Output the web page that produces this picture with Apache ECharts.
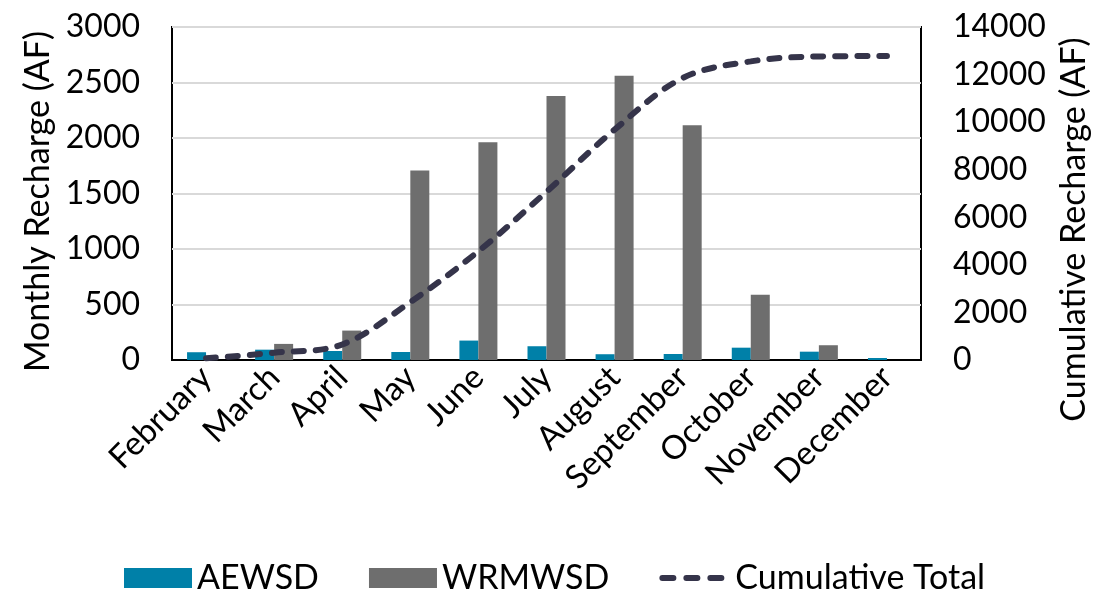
<!DOCTYPE html>
<html>
<head>
<meta charset="utf-8">
<script src="https://cdn.jsdelivr.net/npm/echarts@6/dist/echarts.min.js"></script>
<style>
html,body{margin:0;padding:0;background:#fff;}
#c{width:1102px;height:592px;}
</style>
</head>
<body>
<div id="c"></div>
<script>
const categories = ['February','March','April','May','June','July','August','September','October','November','December'];
const aewsd = [70, 93, 81, 72, 175, 124, 52, 54, 111, 75, 18];
const wrmwsd = [0, 145, 265, 1708, 1962, 2378, 2561, 2115, 588, 133, 0];
const cumulative = [70, 308, 654, 2434, 4571, 7073, 9686, 11855, 12554, 12762, 12780];
const leftTicks = [0, 3000, 500];
const rightTicks = [0, 14000, 2000];

const FONT = 'Lato';
const chart = echarts.init(document.getElementById('c'), null, {renderer:'canvas'});
chart.setOption({
  animation: false,
  textStyle: {fontFamily: FONT, color: '#000'},
  grid: {left: 172, right: 181, top: 27, bottom: 232, show: true, borderColor: '#000', borderWidth: 2, backgroundColor: 'transparent'},
  legend: {
    top: 556, left: 119, itemWidth: 68, itemHeight: 20, itemGap: 50,
    textStyle: {fontFamily: FONT, fontSize: 34, color: '#000'},
    data: [
      {name:'AEWSD', icon:'rect'},
      {name:'WRMWSD', icon:'rect'},
      {name:'Cumulative Total', itemStyle: {opacity: 0}, lineStyle: {width: 6, type: [11, 13], cap: 'round', color: '#35344a'}}
    ]
  },
  xAxis: {
    type: 'category', data: categories,
    axisLine: {lineStyle: {color: '#000', width: 2}},
    axisTick: {show: false},
    axisLabel: {rotate: 45, fontSize: 33, color: '#000', fontFamily: FONT, margin: 12, interval: 0}
  },
  yAxis: [{
    type: 'value', min: leftTicks[0], max: leftTicks[1], interval: leftTicks[2],
    name: 'Monthly Recharge (AF)', nameLocation: 'middle', nameGap: 115, nameRotate: 90,
    nameTextStyle: {fontSize: 34, color: '#000', fontFamily: FONT, padding: [0, 16, 0, 0]},
    axisLine: {show: false}, axisTick: {show: false},
    axisLabel: {fontSize: 32, color: '#000', fontFamily: FONT, margin: 32, formatter: v => String(v)},
    splitLine: {lineStyle: {color: '#d9d9d9', width: 2}}
  }, {
    type: 'value', min: rightTicks[0], max: rightTicks[1], interval: rightTicks[2],
    name: 'Cumulative Recharge (AF)', nameLocation: 'middle', nameGap: 136, nameRotate: 90,
    nameTextStyle: {fontSize: 34, color: '#000', fontFamily: FONT, padding: [0, 72, 0, 0]},
    axisLine: {show: false}, axisTick: {show: false},
    axisLabel: {fontSize: 32, color: '#000', fontFamily: FONT, margin: 32, align: 'left', formatter: v => String(v)},
    splitLine: {show: false}
  }],
  series: [{
    name: 'AEWSD', type: 'bar', data: aewsd, barWidth: 19, barGap: '0%',
    itemStyle: {color: '#0080a8'}
  }, {
    name: 'WRMWSD', type: 'bar', data: wrmwsd, barWidth: 19, barGap: '0%',
    itemStyle: {color: '#6e6e6e'}
  }, {
    name: 'Cumulative Total', type: 'line', yAxisIndex: 1, data: cumulative,
    smooth: 0.35, symbol: 'none',
    lineStyle: {color: '#35344a', width: 6, type: [10, 12], cap: 'round'},
    itemStyle: {color: '#35344a'}
  }]
});
</script>
</body>
</html>
